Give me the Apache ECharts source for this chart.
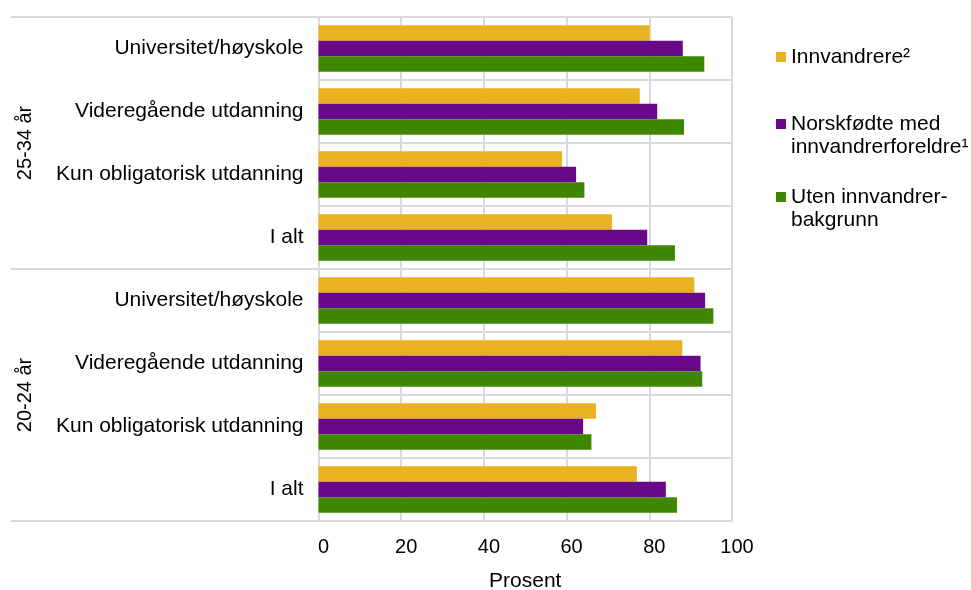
<!DOCTYPE html>
<html>
<head>
<meta charset="utf-8">
<script src="https://cdn.jsdelivr.net/npm/echarts@6/dist/echarts.min.js"></script>
<style>
  html, body { margin: 0; padding: 0; background: #fff; }
  #chart { width: 971px; height: 590px; }
</style>
</head>
<body>
<div id="chart"></div>
<script>
// age groups and education levels, top to bottom
const ageGroups = ['25-34 år', '20-24 år']
const eduLevels = ['Universitet/høyskole', 'Videregående utdanning', 'Kun obligatorisk utdanning', 'I alt']

const seriesNames = ['Innvandrere²', 'Norskfødte med innvandrerforeldre¹', 'Uten innvandrer-bakgrunn']

// prosent, same order as categories (25-34 first, then 20-24)
const innvandrere = [80.1, 77.7, 58.9, 71.0, 90.9, 88.0, 67.1, 77.0]
const norskfodte = [88.1, 81.9, 62.3, 79.5, 93.5, 92.4, 64.0, 84.0]
const utenBakgrunn = [93.3, 88.4, 64.3, 86.2, 95.5, 92.8, 66.0, 86.7]

const xTicks = [0, 20, 40, 60, 80, 100]

const colors = ['#EAB221', '#690888', '#3F8603']
const gridColor = '#d9d9d9'
const font = "'Liberation Sans', Arial, sans-serif"

const categories = ageGroups.flatMap((g) => eduLevels.map((e) => g + '|' + e))

const chart = echarts.init(document.getElementById('chart'))

const makeSeries = (name, data, color) => ({
  name,
  type: 'bar',
  data,
  barWidth: 15.5,
  barGap: '0%',
  itemStyle: { color },
  animation: false
})

const legendItem = (name, top, label) => ({
  data: [name],
  orient: 'vertical',
  left: 776,
  top,
  icon: 'rect',
  itemWidth: 10,
  itemHeight: 10,
  itemGap: 0,
  padding: 0,
  formatter: () => label,
  textStyle: { fontFamily: font, fontSize: 21, lineHeight: 23, color: '#000' },
  selectedMode: false
})

chart.setOption({
  textStyle: { fontFamily: font },
  grid: {
    left: 318.5,
    right: 239,
    top: 17,
    bottom: 69,
    containLabel: false,
    outerBoundsMode: 'none'
  },
  xAxis: {
    type: 'value',
    min: xTicks[0],
    max: xTicks[xTicks.length - 1],
    interval: 20,
    axisLine: { show: false },
    axisTick: { show: false },
    splitLine: { show: true, lineStyle: { color: gridColor, width: 2 } },
    axisLabel: {
      fontFamily: font,
      fontSize: 20,
      color: '#000',
      margin: 16,
      padding: [0, 0, 0, 10]
    },
    name: 'Prosent',
    nameLocation: 'middle',
    nameGap: 50,
    nameTextStyle: { fontFamily: font, fontSize: 21, color: '#000' }
  },
  yAxis: [
    {
      type: 'category',
      data: categories,
      inverse: true,
      axisLine: { show: true, lineStyle: { color: gridColor, width: 2 } },
      axisTick: { show: false },
      splitLine: { show: true, lineStyle: { color: gridColor, width: 2 } },
      axisLabel: {
        interval: 0,
        fontFamily: font,
        fontSize: 21,
        color: '#000',
        margin: 15,
        formatter: (v) => v.split('|')[1]
      }
    },
    {
      type: 'category',
      data: ageGroups,
      inverse: true,
      position: 'left',
      offset: 0,
      axisLine: { show: false },
      axisTick: { show: true, length: 308, lineStyle: { color: gridColor, width: 2 } },
      splitLine: { show: false },
      axisLabel: {
        interval: 0,
        rotate: 90,
        fontFamily: font,
        fontSize: 20,
        color: '#000',
        margin: 293,
        align: 'center',
        verticalAlign: 'middle'
      }
    }
  ],
  legend: [
    legendItem(seriesNames[0], 45.5, 'Innvandrere²'),
    legendItem(seriesNames[1], 89.5, '\nNorskfødte med\ninnvandrerforeldre¹'),
    legendItem(seriesNames[2], 162.5, '\nUten innvandrer-\nbakgrunn')
  ],
  series: [
    makeSeries(seriesNames[0], innvandrere, colors[0]),
    makeSeries(seriesNames[1], norskfodte, colors[1]),
    makeSeries(seriesNames[2], utenBakgrunn, colors[2])
  ]
})
</script>
</body>
</html>
